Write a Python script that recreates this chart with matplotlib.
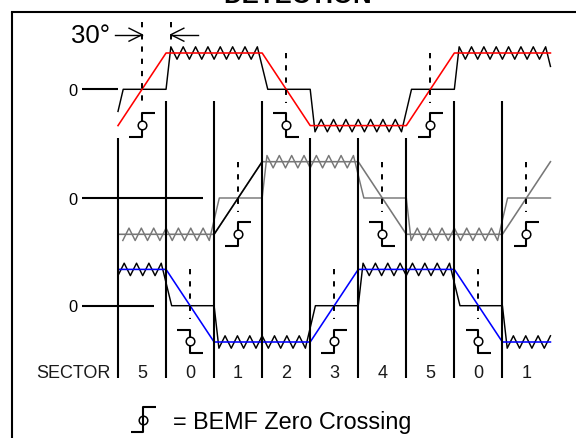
import numpy as np
import matplotlib
matplotlib.use('Agg')
import matplotlib.pyplot as plt

plt.rcParams['font.family'] = ['Liberation Sans', 'DejaVu Sans']
plt.rcParams['lines.scale_dashes'] = False

# ---------------- data ----------------
sector_labels = ['5', '0', '1', '2', '3', '4', '5', '0', '1']
sector_deg = 60.0
n_sectors = len(sector_labels)

# ideal trapezoidal BEMF over one electrical period (degrees, normalised level)
ideal_deg = [0, 60, 180, 240, 360]
ideal_lvl = [-1, 1, 1, -1, -1]

# phase terminal voltage breakpoints (degrees, normalised level);
# plateaus at +/-1 are PWM chopped
actual_deg = [6.5, 60, 66, 174, 187, 240, 246, 354, 366.5]
actual_lvl = [0, 0, 1, 1, 0, 0, -1, -1, 0]
pwm_pulses = 7

phase_shift = [0, 120, 240]
actual_start = [0, 6, 0]
zero_label = '0'
legend_text = '= BEMF Zero Crossing'
title_text = 'DETECTION'
angle_text = '30°'
sector_title = 'SECTOR'

# ---------------- layout ----------------
W, H = 576, 439
fig = plt.figure(figsize=(W / 100, H / 100), dpi=100)
ax = fig.add_axes([0, 0, 1, 1])
ax.set_axis_off()

PX_ORIGIN = 118.0
PX_PER_DEG = 48.05 / 60
PX_PER_LVL = 36.3
Y_REF = 306.7
ax.set_xlim(-PX_ORIGIN / PX_PER_DEG, (W - PX_ORIGIN) / PX_PER_DEG)
ax.set_ylim((Y_REF - H) / PX_PER_LVL, Y_REF / PX_PER_LVL)


def X(px):
    return (px - PX_ORIGIN) / PX_PER_DEG


def Y(py):
    return (Y_REF - py) / PX_PER_LVL


def DX(d):
    return d / PX_PER_DEG


def DY(d):
    return d / PX_PER_LVL


zero_py = [90.3, 199.0, 306.7]
offsets = [Y(p) for p in zero_py]
zero_line_end_px = [118, 203, 154]
ideal_color = ['#ff0000', '#777777', '#0000ff']
actual_color = ['#000000', '#777777', '#000000']
zig_amp = DY(6.2)
span = n_sectors * sector_deg


def expand(deg, lvl):
    xs, ys = [], []
    for i in range(len(deg)):
        l = lvl[i]
        xs.append(deg[i])
        ys.append(l * (1 + zig_amp) if l != 0 else 0.0)
        if i + 1 < len(deg) and l != 0 and lvl[i + 1] == l:
            n = 2 * pwm_pulses
            for k in range(1, n):
                xs.append(deg[i] + (deg[i + 1] - deg[i]) * k / n)
                ys.append(l * (1 - zig_amp) if k % 2 else l * (1 + zig_amp))
    return xs, ys


def tile(deg, lvl, shift):
    d = np.asarray(deg, float)
    l = np.asarray(lvl, float)
    xs = np.concatenate([d + shift + 360 * k for k in range(-2, 3)])
    ys = np.tile(l, 5)
    return xs, ys


def clip(xs, ys, a, b):
    m = (xs > a) & (xs < b)
    Xc = np.concatenate([[a], xs[m], [b]])
    Yc = np.concatenate([[np.interp(a, xs, ys)], ys[m], [np.interp(b, xs, ys)]])
    return Xc, Yc


def bemf_symbol(theta, off, rising, legend=False, cy=None):
    yt = Y(cy - 12.2) if legend else off - DY(24)
    yb = Y(cy + 12.2) if legend else off - DY(47.5)
    yc = (yt + yb) / 2
    hw = DX(12.8)
    xs = [theta - hw, theta, theta, theta + hw]
    ys = [yb, yb, yt, yt] if rising else [yt, yt, yb, yb]
    ax.plot(xs, ys, color='black', lw=1.5, solid_capstyle='butt', zorder=6)
    ax.plot([theta], [yc], marker='o', ms=6.2, mfc='none' if legend else 'white',
            mec='black', mew=1.1, zorder=7)


ax_x, ax_y = expand(actual_deg, actual_lvl)

for i in range(3):
    off = offsets[i]
    s = phase_shift[i]
    xi, yi = tile(ideal_deg, ideal_lvl, s)
    Xi, Yi = clip(xi, yi, 0, span)
    xa, ya = tile(ax_x, ax_y, s)
    Xa, Ya = clip(xa, ya, actual_start[i], span)
    ax.plot(Xa, Ya + off, color=actual_color[i], lw=1.05, zorder=3)
    ax.plot(Xi, Yi + off, color=ideal_color[i], lw=1.15, zorder=4)
    if i == 1:
        Xb, Yb = clip(xi, yi, s, s + sector_deg)
        ax.plot(Xb, Yb + off, color='black', lw=1.1, zorder=4)

    # zero reference line and label
    ax.plot([X(82), X(zero_line_end_px[i])], [off, off], color='black', lw=1.5,
            solid_capstyle='butt', zorder=3)
    ax.text(X(77.5), off - DY(5.8), zero_label, ha='right', va='baseline', fontsize=11.8)

    # zero crossings
    for base, rising in ((30, True), (210, False)):
        for k in range(-1, 3):
            th = base + s + 360 * k
            if 0 <= th <= span:
                top = off + 1.0
                if i == 0 and th == 30:
                    top = Y(23)
                ax.plot([th, th], [top, off - DY(13.5)], color='black', lw=1.4,
                        linestyle=(0, (3.8, 5.0)), zorder=5)
                bemf_symbol(th, off, rising)

# 30 degree annotation
th2 = actual_deg[2]
ax.plot([th2, th2], [Y(23), Y(47)], color='black', lw=1.4, linestyle=(0, (3.8, 5.0)), zorder=5)
ya = Y(35.7)
ax.plot([X(114.6), 30], [ya, ya], color='black', lw=1.0)
ax.plot([30 - DX(13), 30, 30 - DX(13)], [ya + DY(6.5), ya, ya - DY(6.5)], color='black', lw=1.0)
ax.plot([X(198.4), th2], [ya, ya], color='black', lw=1.0)
ax.plot([th2 + DX(13), th2, th2 + DX(13)], [ya + DY(6.5), ya, ya - DY(6.5)], color='black', lw=1.0)
ax.text(X(110.5), Y(43), angle_text, ha='right', va='baseline', fontsize=18.5)

# sector boundaries
xA, yA = tile(ideal_deg, ideal_lvl, phase_shift[0])
for k in range(n_sectors):
    th = k * sector_deg
    lvl = np.interp(th, xA, yA)
    top = offsets[0] - 1.0 - DY(12.6) if lvl < 0 else offsets[0] - DY(11.4)
    ax.plot([th, th], [top, Y(379.3)], color='black', lw=1.5, solid_capstyle='butt', zorder=5)
    ax.text(th + sector_deg / 2, Y(378), sector_labels[k], ha='center', va='baseline',
            fontsize=13, color='#1a1a1a')
ax.text(X(110.5), Y(378), sector_title, ha='right', va='baseline', fontsize=13, color='#1a1a1a')

# legend
bemf_symbol(X(143.3), 0, True, legend=True, cy=420.5)
ax.text(X(173), Y(429.5), legend_text, ha='left', va='baseline', fontsize=16.8)

# frame and title
ax.plot([X(12), X(12)], [Y(13), Y(445)], color='black', lw=1.5, solid_capstyle='butt', clip_on=False)
ax.plot([X(12), X(580)], [Y(13), Y(13)], color='black', lw=1.5, solid_capstyle='projecting', clip_on=False)
ax.text(X(298), Y(3.2), title_text, ha='center', va='baseline', fontsize=18.5, fontweight='bold')

fig.savefig('out.png', dpi=100)
